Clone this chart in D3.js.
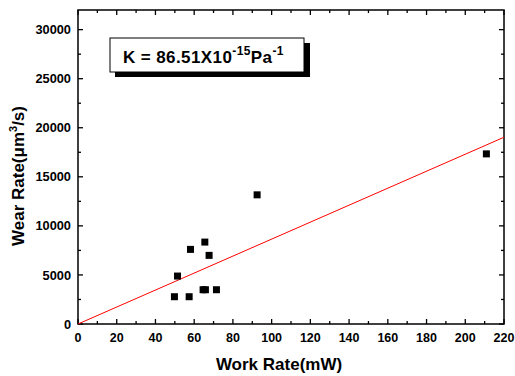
<!DOCTYPE html>
<html><head><meta charset="utf-8">
<script src="https://cdn.jsdelivr.net/npm/d3@7"></script>
<style>body{margin:0;background:#fff}svg{display:block}text{font-family:"Liberation Sans",Arial,sans-serif;font-weight:bold}</style>
</head><body>
<svg id="c" width="515" height="376"></svg>
<script>
const workRate = [49.8, 57.4, 51.4, 58.1, 65.5, 67.7, 64.6, 65.8, 71.5, 92.5, 210.9];
const wearRate = [2780, 2780, 4886, 7604, 8348, 6994, 3492, 3492, 3492, 13163, 17337];
const slopeK = 86.51;
const xTicks = [0,20,40,60,80,100,120,140,160,180,200,220];
const yTicks = [0,5000,10000,15000,20000,25000,30000];

const svg = d3.select("#c");
const L=78, R=504, T=10, B=324;
const x = d3.scaleLinear().domain([0,220]).range([L,R]);
const y = d3.scaleLinear().domain([0,32000]).range([B,T]);

// frame
svg.append("rect").attr("x",L).attr("y",T).attr("width",R-L).attr("height",B-T)
  .attr("fill","none").attr("stroke","#000").attr("stroke-width",1.5);

const minorX = d3.range(0,221,10), minorY = d3.range(0,32001,2500);
function ticks(g, vals, isMajor, orient){
  const len = isMajor ? 5 : 3;
  vals.forEach(v=>{
    if(orient==="b") g.append("line").attr("x1",x(v)).attr("x2",x(v)).attr("y1",B).attr("y2",B-len);
    if(orient==="t") g.append("line").attr("x1",x(v)).attr("x2",x(v)).attr("y1",T).attr("y2",T+len);
    if(orient==="l") g.append("line").attr("y1",y(v)).attr("y2",y(v)).attr("x1",L).attr("x2",L+len);
    if(orient==="r") g.append("line").attr("y1",y(v)).attr("y2",y(v)).attr("x1",R).attr("x2",R-len);
  });
}
const tg = svg.append("g").attr("stroke","#000").attr("stroke-width",1.3);
["b","t"].forEach(o=>{ticks(tg,minorX.filter(v=>v%20),false,o);ticks(tg,xTicks,true,o);});
["l","r"].forEach(o=>{ticks(tg,minorY.filter(v=>v%5000),false,o);ticks(tg,yTicks,true,o);});

// tick labels
svg.append("g").selectAll("text").data(xTicks).join("text")
  .attr("x",d=>x(d)).attr("y",342).attr("text-anchor","middle").attr("font-size",12.5).text(d=>d);
svg.append("g").selectAll("text").data(yTicks).join("text")
  .attr("x",71).attr("y",d=>y(d)+4.6).attr("text-anchor","end").attr("font-size",12.8).text(d=>d);

// axis titles
svg.append("text").attr("x",279).attr("y",370).attr("text-anchor","middle").attr("font-size",17).text("Work Rate(mW)");
const yt = svg.append("text").attr("transform",`translate(24,176) rotate(-90)`).attr("text-anchor","middle").attr("font-size",17);
yt.append("tspan").text("Wear Rate(μm");
yt.append("tspan").attr("font-size",11).attr("dy",-7).text("3");
yt.append("tspan").attr("dy",7).text("/s)");

// fit line
svg.append("line").attr("x1",x(0)).attr("y1",y(0)).attr("x2",x(220)).attr("y2",y(220*slopeK))
  .attr("stroke","#ff0000").attr("stroke-width",1);

// points
const s=7;
svg.append("g").selectAll("rect").data(workRate).join("rect")
  .attr("x",(d)=>x(d)-s/2).attr("y",(d,i)=>y(wearRate[i])-s/2).attr("width",s).attr("height",s).attr("fill","#000");

// legend box
svg.append("rect").attr("x",115).attr("y",43).attr("width",195).attr("height",34).attr("fill","#000");
svg.append("rect").attr("x",110).attr("y",38).attr("width",194).attr("height",34).attr("fill","#fff").attr("stroke","#000").attr("stroke-width",1);
const lt = svg.append("text").attr("x",123).attr("y",63).attr("font-size",17).attr("letter-spacing",0.4);
lt.append("tspan").text("K = 86.51X10");
lt.append("tspan").attr("font-size",12).attr("dy",-8).text("-15");
lt.append("tspan").attr("dy",8).text("Pa");
lt.append("tspan").attr("font-size",12).attr("dy",-8).text("-1");
</script>
</body></html>
